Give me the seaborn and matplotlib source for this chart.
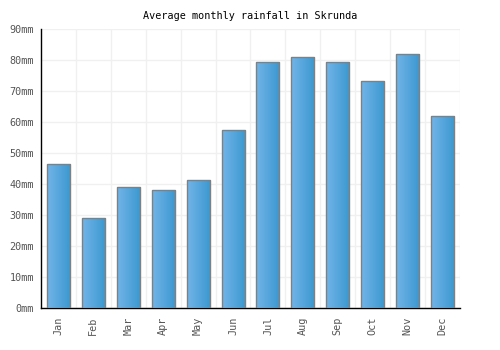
import numpy as np
import pandas as pd
import seaborn as sns
from matplotlib import pyplot as plt
from matplotlib import colors as mpl_colors

months = ["Jan", "Feb", "Mar", "Apr", "May", "Jun",
          "Jul", "Aug", "Sep", "Oct", "Nov", "Dec"]
rainfall = [46.3, 29, 38.9, 38, 41.2, 57.3, 79.5, 81.1, 79.5, 73.2, 81.8, 61.8]
y_ticks = [0, 10, 20, 30, 40, 50, 60, 70, 80, 90]

df = pd.DataFrame({"Month": months, "Rainfall": rainfall})

sns.set_style("white")
plt.rcParams["font.family"] = ["DejaVu Sans Mono"]

fig = plt.figure(figsize=(5, 3.5), dpi=100)
ax = fig.add_axes([0.082, 0.12, 0.838, 0.797])

sns.barplot(data=df, x="Month", y="Rainfall", ax=ax, width=0.66,
            color="#55a5dc", edgecolor="#808080", linewidth=1, zorder=3)

# horizontal gradient fill on each bar
cmap = mpl_colors.LinearSegmentedColormap.from_list("bar", ["#72b4e8", "#3a98d0"])
grad = np.linspace(0, 1, 64).reshape(1, -1)
for p in ax.patches:
    x0, y0 = p.get_x(), p.get_y()
    w, h = p.get_width(), p.get_height()
    im = ax.imshow(grad, cmap=cmap, aspect="auto", extent=[x0, x0 + w, y0, y0 + h],
                   zorder=3.5, interpolation="bilinear")
    im.set_clip_path(p)
    p.set_facecolor("none")
    p.set_zorder(4)

ax.set_xlim(-0.5, len(months) - 0.5)
ax.set_ylim(0, 90)
ax.set_yticks(y_ticks)
ax.set_yticklabels([f"{v}mm" for v in y_ticks])
ax.set_xticks(np.arange(len(months)))
ax.set_xticklabels(months, rotation=90)

# grid at category boundaries and y ticks
ax.set_xticks(np.arange(len(months)) + 0.5, minor=True)
ax.grid(axis="y", color="#f0f0f0", linewidth=1, zorder=0)
ax.grid(axis="x", which="minor", color="#f0f0f0", linewidth=1, zorder=0)
ax.grid(axis="x", which="major", visible=False)
ax.set_axisbelow(True)

ax.tick_params(axis="both", which="both", length=0, labelsize=7.3, labelcolor="#555555")
ax.tick_params(axis="x", pad=6)
ax.tick_params(axis="y", pad=5)

sns.despine(ax=ax)
for s in ["left", "bottom"]:
    ax.spines[s].set_color("black")
    ax.spines[s].set_linewidth(1)

ax.set_xlabel("")
ax.set_ylabel("")
ax.set_title("Average monthly rainfall in Skrunda", fontsize=7.3, pad=7.5, color="black")

fig.savefig("out.png", dpi=100)
